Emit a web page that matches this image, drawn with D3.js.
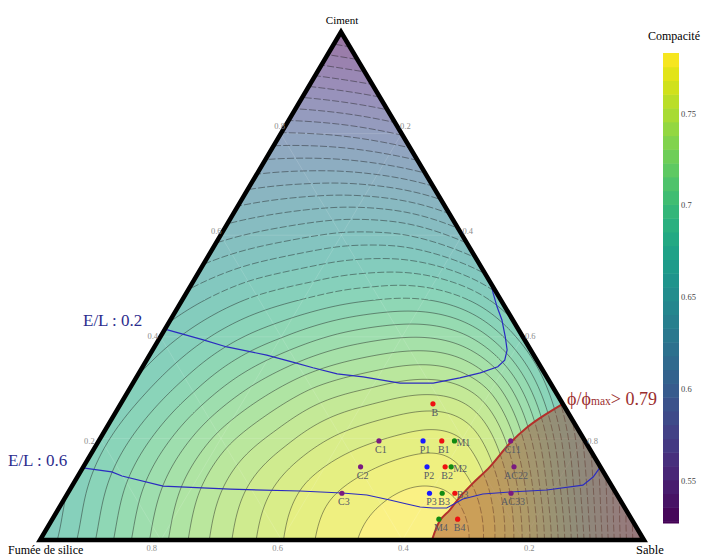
<!DOCTYPE html>
<html>
<head>
<meta charset="utf-8">
<script src="https://cdn.jsdelivr.net/npm/d3@7"></script>
<style>
  body { margin: 0; background: #fff; }
  svg { display: block; font-family: "Liberation Serif", "DejaVu Serif", serif; }
</style>
</head>
<body>
<svg id="chart" width="702" height="557"></svg>
<script>
// compacité: one row per ciment level (0, 0.1 ... 1),
// inside a row sable goes 0, 0.1 ... 1 - ciment
const compaciteGrid = [
  [0.672, 0.695, 0.720, 0.742, 0.760, 0.773, 0.781, 0.778, 0.737, 0.671, 0.598],
  [0.679, 0.703, 0.727, 0.747, 0.763, 0.772, 0.776, 0.758, 0.701, 0.632],
  [0.682, 0.704, 0.726, 0.742, 0.755, 0.762, 0.760, 0.723, 0.662],
  [0.679, 0.698, 0.716, 0.730, 0.738, 0.742, 0.727, 0.680],
  [0.673, 0.688, 0.700, 0.710, 0.715, 0.710, 0.681],
  [0.662, 0.673, 0.680, 0.685, 0.684, 0.668],
  [0.645, 0.652, 0.657, 0.656, 0.644],
  [0.623, 0.626, 0.625, 0.617],
  [0.596, 0.594, 0.587],
  [0.563, 0.557],
  [0.527]
];
// maximum of the surface, on the base
const peakCiment = [0];
const peakSable = [0.655];
const peakValue = [0.783];

const levelStep = 0.0075;
const compaciteMin = 0.527, compaciteMax = 0.783;
const colorbarTicks = [0.55, 0.6, 0.65, 0.7, 0.75];
const axisTicks = [0.2, 0.4, 0.6, 0.8];

// experimental mixes (ciment, sable fractions)
const pointNames  = ["B", "C1", "P1", "B1", "M1", "C11", "C2", "P2", "B2", "M2", "AC22", "C3", "P3", "B3", "B3", "AC33", "M4", "B4"];
const pointGroup  = ["B", "C", "P", "B", "M", "C", "C", "P", "B", "M", "C", "C", "P", "M", "B", "C", "M", "B"];
const pointCiment = [0.268, 0.195, 0.195, 0.195, 0.195, 0.195, 0.144, 0.144, 0.144, 0.144, 0.144, 0.092, 0.092, 0.092, 0.092, 0.092, 0.041, 0.041];
const pointSable  = [0.517, 0.464, 0.537, 0.568, 0.589, 0.682, 0.459, 0.569, 0.599, 0.609, 0.713, 0.454, 0.599, 0.620, 0.641, 0.734, 0.640, 0.671];
const labelSide   = ["below", "below", "below", "below", "right", "below", "below", "below", "below", "right", "below", "below", "below", "below", "right", "below", "below", "below"];

// E/L iso-lines
const el02Ciment = [0.415, 0.394, 0.380, 0.364, 0.350, 0.339, 0.327, 0.321, 0.309, 0.309, 0.319, 0.329, 0.341, 0.354, 0.374, 0.400, 0.433, 0.459, 0.486, 0.512, 0.522];
const el02Sable  = [0.000, 0.074, 0.120, 0.194, 0.244, 0.283, 0.329, 0.375, 0.442, 0.497, 0.536, 0.565, 0.588, 0.593, 0.587, 0.571, 0.549, 0.528, 0.508, 0.490, 0.478];
const el06Ciment = [0.142, 0.134, 0.126, 0.106, 0.100, 0.0965, 0.0925, 0.0886, 0.0787, 0.0709, 0.065, 0.063, 0.063, 0.0807, 0.0906, 0.0945, 0.0984, 0.108, 0.124, 0.144];
const el06Sable  = [0.000, 0.052, 0.073, 0.151, 0.265, 0.382, 0.454, 0.497, 0.540, 0.572, 0.597, 0.619, 0.642, 0.660, 0.688, 0.731, 0.790, 0.845, 0.854, 0.856];

// limit phi/phi_max = 0.79
const phiCiment = [0, 0.039, 0.059, 0.085, 0.112, 0.144, 0.191, 0.222, 0.240, 0.268];
const phiSable  = [0.649, 0.643, 0.649, 0.653, 0.661, 0.673, 0.683, 0.696, 0.708, 0.732];

const svg = d3.select("#chart");
const defs = svg.append("defs");

// triangle corners on screen
const L = [40, 540], R = [644, 540], T = [341, 32];
const sableX = d3.scaleLinear().domain([0, 1]).range([0, R[0] - L[0]]);
const cimentX = d3.scaleLinear().domain([0, 1]).range([0, T[0] - L[0]]);
const cimentY = d3.scaleLinear().domain([0, 1]).range([L[1], T[1]]);
const proj = (a, c) => [L[0] + sableX(c) + cimentX(a), cimentY(a)];

const tval = d3.scaleLinear().domain([compaciteMin, compaciteMax]).clamp(true);
const fillColor = v => d3.interpolateRgb("#ffffff", d3.interpolateViridis(tval(v)))(0.55);

// ---- smooth surface through the read values (thin plate spline)
const nodes = [];
compaciteGrid.forEach((row, i) => row.forEach((v, j) => nodes.push({a: i / 10, c: j / 10, v})));
peakValue.forEach((v, i) => nodes.push({a: peakCiment[i], c: peakSable[i], v}));
const np = nodes.map(d => { const p = proj(d.a, d.c); return [p[0] / 100, p[1] / 100]; });
const n = nodes.length, m = n + 3;
const phi = r => r < 1e-9 ? 0 : r * r * Math.log(r);
const A = Array.from({length: m}, () => new Float64Array(m));
const rhs = new Float64Array(m);
for (let i = 0; i < n; i++) {
  for (let j = 0; j < n; j++) A[i][j] = phi(Math.hypot(np[i][0] - np[j][0], np[i][1] - np[j][1]));
  A[i][n] = A[n][i] = 1;
  A[i][n + 1] = A[n + 1][i] = np[i][0];
  A[i][n + 2] = A[n + 2][i] = np[i][1];
  rhs[i] = nodes[i].v;
}
function solve(M, b) {
  const k = b.length;
  for (let c = 0; c < k; c++) {
    let p = c;
    for (let r = c + 1; r < k; r++) if (Math.abs(M[r][c]) > Math.abs(M[p][c])) p = r;
    [M[c], M[p]] = [M[p], M[c]]; [b[c], b[p]] = [b[p], b[c]];
    for (let r = c + 1; r < k; r++) {
      const f = M[r][c] / M[c][c];
      if (!f) continue;
      for (let q = c; q < k; q++) M[r][q] -= f * M[c][q];
      b[r] -= f * b[c];
    }
  }
  const x = new Float64Array(k);
  for (let r = k - 1; r >= 0; r--) {
    let s = b[r];
    for (let q = r + 1; q < k; q++) s -= M[r][q] * x[q];
    x[r] = s / M[r][r];
  }
  return x;
}
const w = solve(A, rhs);
function surface(x, y) {
  const px = x / 100, py = y / 100;
  let s = w[n] + w[n + 1] * px + w[n + 2] * py;
  for (let i = 0; i < n; i++) s += w[i] * phi(Math.hypot(px - np[i][0], py - np[i][1]));
  return s;
}

const x0 = 30, y0 = 22, step = 2;
const nx = Math.ceil((654 - x0) / step) + 1, ny = Math.ceil((550 - y0) / step) + 1;
const values = new Float64Array(nx * ny);
for (let j = 0; j < ny; j++)
  for (let i = 0; i < nx; i++) values[j * nx + i] = surface(x0 + i * step, y0 + j * step);

const levels = d3.range(1, 36).map(k => compaciteMax - k * levelStep).filter(v => v > 0.5).reverse();
const contours = d3.contours().size([nx, ny]).thresholds(levels)(values);
const gridPath = d3.geoPath(d3.geoTransform({
  point(x, y) { this.stream.point(x0 + (x - 0.5) * step, y0 + (y - 0.5) * step); }
}));

const tri = [L, R, T];
const triD = "M" + tri.map(p => p.join(",")).join("L") + "Z";
defs.append("clipPath").attr("id", "tri").append("path").attr("d", triD);

const line = d3.line();
const phiPts = phiCiment.map((a, i) => proj(a, phiSable[i]));
const phiRegionD = line(phiPts.concat([proj(0, 1)])) + "Z";

// lines look solid low on the left, broken higher up and under the shaded zone
const solidMask = defs.append("mask").attr("id", "solidLines");
solidMask.append("rect").attr("x", 0).attr("y", 300).attr("width", 702).attr("height", 257).attr("fill", "#fff");
solidMask.append("path").attr("d", phiRegionD).attr("fill", "#000");
const dashMask = defs.append("mask").attr("id", "dashLines");
dashMask.append("rect").attr("x", 0).attr("y", 0).attr("width", 702).attr("height", 300).attr("fill", "#fff");
dashMask.append("path").attr("d", phiRegionD).attr("fill", "#fff");

const plot = svg.append("g").attr("clip-path", "url(#tri)");
plot.append("path").attr("d", triD).attr("fill", fillColor(levels[0] - levelStep / 2));
plot.append("g").selectAll("path").data(contours).join("path")
  .attr("d", gridPath)
  .attr("fill", d => fillColor(d.value + levelStep / 2));

// faint grid
const grid = plot.append("g").attr("stroke", "#fff").attr("stroke-opacity", 0.17).attr("stroke-width", 0.8);
axisTicks.forEach(t => {
  grid.append("line").datum([proj(t, 0), proj(t, 1 - t)]);
  grid.append("line").datum([proj(0, t), proj(1 - t, t)]);
  grid.append("line").datum([proj(0, 1 - t), proj(1 - t, 0)]);
});
grid.selectAll("line")
  .attr("x1", d => d[0][0]).attr("y1", d => d[0][1])
  .attr("x2", d => d[1][0]).attr("y2", d => d[1][1]);

[["solidLines", null], ["dashLines", "7,2.2"]].forEach(([mask, dash]) => {
  plot.append("g").attr("mask", `url(#${mask})`)
    .selectAll("path").data(contours).join("path")
    .attr("d", gridPath)
    .attr("fill", "none")
    .attr("stroke", "#1e1e1e")
    .attr("stroke-opacity", 0.75)
    .attr("stroke-width", 0.6)
    .attr("stroke-dasharray", dash);
});

// phi/phi_max region
plot.append("path")
  .attr("d", phiRegionD)
  .attr("fill", "rgb(160,60,40)")
  .attr("fill-opacity", 0.45);
plot.append("path")
  .attr("d", d3.line().curve(d3.curveCatmullRom)(phiPts))
  .attr("fill", "none")
  .attr("stroke", "#b3302b")
  .attr("stroke-width", 2);

// E/L lines
[[el02Ciment, el02Sable], [el06Ciment, el06Sable]].forEach(([ca, sa]) => {
  plot.append("path")
    .attr("d", line(ca.map((a, i) => proj(a, sa[i]))))
    .attr("fill", "none")
    .attr("stroke", "#2b2bc0")
    .attr("stroke-width", 1.2);
});

// border
svg.append("path")
  .attr("d", triD)
  .attr("fill", "none")
  .attr("stroke", "#000")
  .attr("stroke-width", 4.5)
  .attr("stroke-linejoin", "miter");

// tick labels, sitting on a slightly larger triangle
const LT = [26, 546], RT = [655, 546], TT = [343, 21];
const mix = (p, q, t) => [p[0] + (q[0] - p[0]) * t, p[1] + (q[1] - p[1]) * t];
const tickG = svg.append("g").attr("font-size", 8.5).attr("fill", "#8c8c8c")
  .attr("text-anchor", "middle").attr("dominant-baseline", "central");
axisTicks.forEach(t => {
  const pl = mix(LT, TT, t), pr = mix(TT, RT, t), pb = mix(RT, LT, t);
  tickG.append("text").attr("x", pl[0]).attr("y", pl[1]).text(t);
  tickG.append("text").attr("x", pr[0]).attr("y", pr[1]).text(t);
  tickG.append("text").attr("x", pb[0]).attr("y", pb[1] + 2).text(t);
});

// axis titles
svg.append("text").attr("x", 342).attr("y", 24).attr("text-anchor", "middle")
  .attr("font-size", 11).text("Ciment");
svg.append("text").attr("x", 8).attr("y", 554).attr("font-size", 12).text("Fumée de silice");
svg.append("text").attr("x", 636).attr("y", 554).attr("font-size", 12.5).text("Sable");

// experimental points
const groupColor = {B: "#ee1111", C: "#7a1a80", P: "#1a1aff", M: "#128a12"};
const pts = svg.append("g");
pointNames.forEach((name, i) => {
  const p = proj(pointCiment[i], pointSable[i]);
  pts.append("circle").attr("cx", p[0]).attr("cy", p[1]).attr("r", 2.6)
    .attr("fill", groupColor[pointGroup[i]]);
  const right = labelSide[i] === "right";
  pts.append("text")
    .attr("x", p[0] + 2)
    .attr("y", right ? p[1] + 5 : p[1] + 12)
    .attr("text-anchor", right ? "start" : "middle")
    .attr("font-size", 10).attr("fill", "#555a66")
    .text(name);
});

// annotations
svg.append("text").attr("x", 83).attr("y", 326).attr("font-size", 17).attr("fill", "#2c2c8e").text("E/L : 0.2");
svg.append("text").attr("x", 8).attr("y", 466).attr("font-size", 17).attr("fill", "#2c2c8e").text("E/L : 0.6");
const phiText = svg.append("text").attr("x", 567).attr("y", 405).attr("font-size", 18).attr("fill", "#9b2e2e");
phiText.append("tspan").text("ϕ/ϕ");
phiText.append("tspan").attr("font-size", 11.5).text("max");
phiText.append("tspan").text("> 0.79");

// colorbar
const cbY = d3.scaleLinear().domain([compaciteMin, compaciteMax]).range([523, 53]);
const cb = svg.append("g");
const edges = [compaciteMin].concat(levels.filter(v => v > compaciteMin), [compaciteMax]);
for (let i = 0; i < edges.length - 1; i++) {
  cb.append("rect").attr("x", 663).attr("width", 16)
    .attr("y", cbY(edges[i + 1])).attr("height", cbY(edges[i]) - cbY(edges[i + 1]) + 0.5)
    .attr("fill", d3.interpolateViridis(tval((edges[i] + edges[i + 1]) / 2)));
}
cb.selectAll("text.tick").data(colorbarTicks).join("text")
  .attr("x", 681).attr("y", d => cbY(d)).attr("dominant-baseline", "central")
  .attr("font-size", 8.5).attr("fill", "#444").text(d => d);
svg.append("text").attr("x", 648).attr("y", 40).attr("font-size", 12).text("Compacité");
</script>
</body>
</html>
